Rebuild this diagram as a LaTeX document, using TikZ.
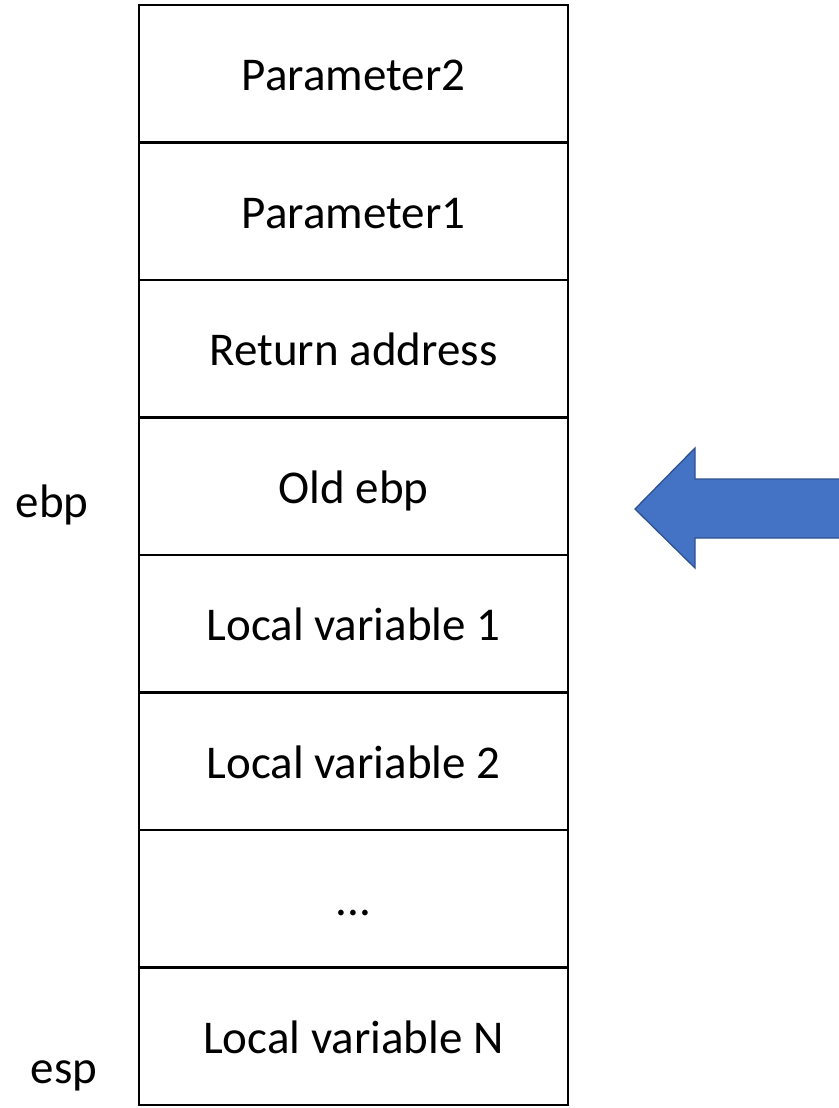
\documentclass[tikz,border=0pt]{standalone}
\usepackage{fontspec}
\setmainfont{Carlito}
\definecolor{arrowblue}{HTML}{4472C4}
\definecolor{arrowedge}{HTML}{2F528F}
\newcommand{\etcdots}{...}
\tikzset{
	cell/.style={draw, line width=2.4pt, minimum width=429pt, minimum height=137.5pt, inner sep=0pt, text height=34pt, text depth=0pt, font=\fontsize{47}{56}\selectfont},
	reg/.style={anchor=base, font=\fontsize{47}{56}\selectfont}
}
\begin{document}
\begin{tikzpicture}[x=1pt, y=-1pt]
	\useasboundingbox (0,0) rectangle (838,1108);
	
	\foreach \txt [count=\i] in {Parameter2, Parameter1, Return address, Old ebp, Local variable 1, Local variable 2, \etcdots, Local variable N}
		\node[cell] (cell\i) at (353.5, {5+137.5*(\i-0.5)}) {\txt};
	
	\node[reg] (ebp) at (52,517) {ebp};
	\node[reg] (esp) at (64,1083) {esp};
	
	\draw[fill=arrowblue, draw=arrowedge, line width=1.3pt] (635,509) -- (695,448) -- (695,479) -- (845,479) -- (845,538) -- (695,538) -- (695,568) -- cycle;
\end{tikzpicture}
\end{document}
